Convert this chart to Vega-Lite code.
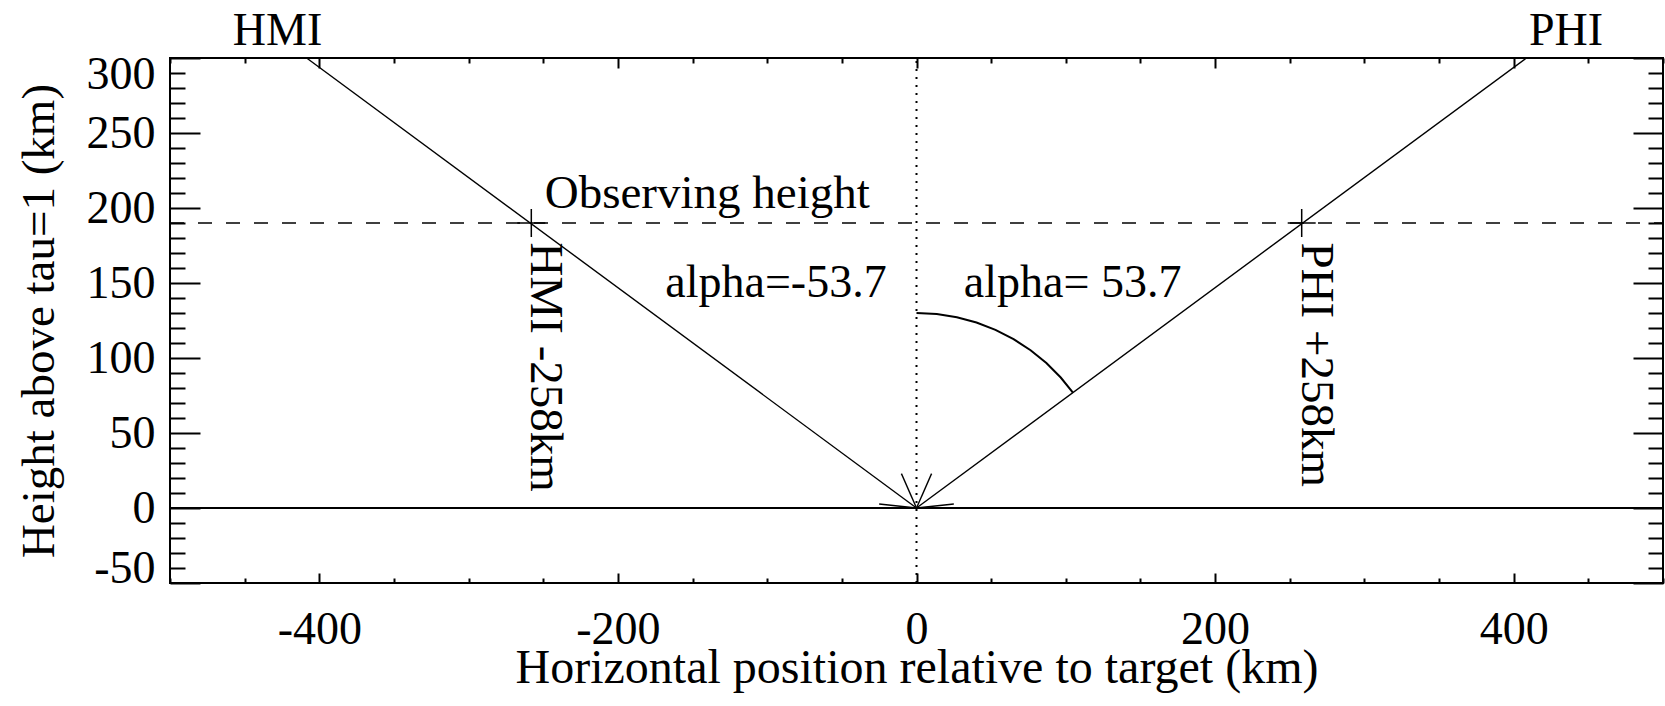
{
  "$schema": "https://vega.github.io/schema/vega-lite/v6.json",
  "width": 1493,
  "height": 525,
  "autosize": {"type": "none"},
  "padding": {"left": 170, "top": 58, "right": 2, "bottom": 123},
  "background": "white",
  "config": {
    "view": {"stroke": "black", "strokeWidth": 2},
    "font": "Liberation Serif",
    "axis": {
      "domain": false, "grid": false,
      "tickColor": "black", "tickWidth": 2,
      "labelColor": "black", "titleColor": "black",
      "labelFont": "Liberation Serif", "titleFont": "Liberation Serif",
      "labelFontSize": 46, "titleFontSize": 46, "titleFontWeight": "normal"
    },
    "text": {"font": "Liberation Serif", "fontSize": 46, "color": "black"}
  },
  "datasets": {
    "ground": [{"x": -500, "y": 0}, {"x": 500, "y": 0}],
    "obs": [{"x": -500, "y": 190}, {"x": 500, "y": 190}],
    "vert": [{"x": 0, "y": -50}, {"x": 0, "y": 300}],
    "rays": [
      {"x": 0, "y": 0, "k": "HMI"}, {"x": -408.5, "y": 300, "k": "HMI"},
      {"x": 0, "y": 0, "k": "PHI"}, {"x": 408.5, "y": 300, "k": "PHI"},
      {"x": 0, "y": 0, "k": "a1"}, {"x": -10.1, "y": 22.9, "k": "a1"},
      {"x": 0, "y": 0, "k": "a2"}, {"x": -25, "y": 2.7, "k": "a2"},
      {"x": 0, "y": 0, "k": "a3"}, {"x": 10.1, "y": 22.9, "k": "a3"},
      {"x": 0, "y": 0, "k": "a4"}, {"x": 25, "y": 2.7, "k": "a4"}
    ],
    "arc": [
      {"x": 0, "y": 130, "o": 0}, {"x": 13.59, "y": 129.29, "o": 1},
      {"x": 27.03, "y": 127.16, "o": 2}, {"x": 40.17, "y": 123.64, "o": 3},
      {"x": 52.88, "y": 118.76, "o": 4}, {"x": 65.0, "y": 112.58, "o": 5},
      {"x": 76.41, "y": 105.17, "o": 6}, {"x": 86.99, "y": 96.61, "o": 7},
      {"x": 96.61, "y": 86.99, "o": 8}, {"x": 104.78, "y": 76.95, "o": 9}
    ],
    "cross": [{"x": -258, "y": 190}, {"x": 258, "y": 190}],
    "toplab": [{"x": -428, "y": 309, "t": "HMI"}, {"x": 435, "y": 309, "t": "PHI"}],
    "obslab": [{"x": -249, "y": 200, "t": "Observing height"}],
    "alphaL": [{"x": -20, "y": 140.7, "t": "alpha=-53.7"}],
    "alphaR": [{"x": 31.7, "y": 140.7, "t": "alpha= 53.7"}],
    "rotlab": [{"x": -258, "y": 177, "t": "HMI -258km"}, {"x": 258, "y": 177, "t": "PHI +258km"}]
  },
  "layer": [
    {
      "data": {"name": "ground"},
      "mark": {"type": "line", "color": "black", "strokeWidth": 2},
      "encoding": {
        "x": {
          "field": "x", "type": "quantitative",
          "scale": {"domain": [-500, 500], "nice": false, "zero": false},
          "axis": {
            "orient": "bottom",
            "values": [-500,-450,-400,-350,-300,-250,-200,-150,-100,-50,0,50,100,150,200,250,300,350,400,450,500],
            "tickSize": {"condition": {"test": "datum.value % 200 === 0", "value": -10}, "value": -5},
            "labelExpr": "datum.value % 200 === 0 ? '' + datum.value : ''",
            "labelPadding": 34,
            "labelOverlap": false,
            "title": "Horizontal position relative to target (km)",
            "titleFontSize": 48,
            "titleAnchor": null,
            "titleX": 746.5, "titleY": 99,
            "titleAlign": "center", "titleBaseline": "alphabetic", "titleAngle": 0
          }
        },
        "y": {
          "field": "y", "type": "quantitative",
          "scale": {"domain": [-50, 300], "nice": false, "zero": false},
          "axis": {
            "orient": "left",
            "values": [-50,-40,-30,-20,-10,0,10,20,30,40,50,60,70,80,90,100,110,120,130,140,150,160,170,180,190,200,210,220,230,240,250,260,270,280,290,300],
            "tickSize": {"condition": {"test": "datum.value % 50 === 0", "value": -30}, "value": -15},
            "labelExpr": "datum.value % 50 === 0 ? '' + datum.value : ''",
            "labelPadding": 45,
            "labelOverlap": false,
            "labelOffset": {"condition": [{"test": "datum.value === 300", "value": 16}, {"test": "datum.value === -50", "value": -15}], "value": 0},
            "title": "Height above tau=1 (km)",
            "titleFontSize": 47,
            "titleAnchor": null,
            "titleX": -117, "titleY": 262.5,
            "titleAngle": -90, "titleAlign": "center", "titleBaseline": "alphabetic"
          }
        }
      }
    },
    {
      "data": {"name": "obs"},
      "mark": {"type": "line", "color": "black", "strokeWidth": 1.5, "strokeDash": [14, 14]},
      "encoding": {
        "x": {
          "field": "x", "type": "quantitative",
          "scale": {"domain": [-500, 500], "nice": false, "zero": false},
          "axis": {
            "orient": "top",
            "values": [-500,-450,-400,-350,-300,-250,-200,-150,-100,-50,0,50,100,150,200,250,300,350,400,450,500],
            "tickSize": {"condition": {"test": "datum.value % 200 === 0", "value": -10}, "value": -5},
            "labels": false,
            "title": null
          }
        },
        "y": {
          "field": "y", "type": "quantitative",
          "scale": {"domain": [-50, 300], "nice": false, "zero": false},
          "axis": {
            "orient": "right",
            "values": [-50,-40,-30,-20,-10,0,10,20,30,40,50,60,70,80,90,100,110,120,130,140,150,160,170,180,190,200,210,220,230,240,250,260,270,280,290,300],
            "tickSize": {"condition": {"test": "datum.value % 50 === 0", "value": -30}, "value": -15},
            "labels": false,
            "title": null
          }
        }
      }
    },
    {
      "data": {"name": "vert"},
      "mark": {"type": "line", "color": "black", "strokeWidth": 2, "strokeDash": [2, 6]},
      "encoding": {
        "x": {"field": "x", "type": "quantitative", "axis": null},
        "y": {"field": "y", "type": "quantitative", "axis": null}
      }
    },
    {
      "data": {"name": "rays"},
      "mark": {"type": "line", "color": "black", "strokeWidth": 1.4},
      "encoding": {
        "x": {"field": "x", "type": "quantitative", "axis": null},
        "y": {"field": "y", "type": "quantitative", "axis": null},
        "detail": {"field": "k"}
      }
    },
    {
      "data": {"name": "arc"},
      "mark": {"type": "line", "color": "black", "strokeWidth": 2},
      "encoding": {
        "x": {"field": "x", "type": "quantitative", "axis": null},
        "y": {"field": "y", "type": "quantitative", "axis": null},
        "order": {"field": "o", "type": "quantitative"}
      }
    },
    {
      "data": {"name": "cross"},
      "mark": {"type": "point", "shape": "M-1,0L1,0M0,-1L0,1", "size": 784, "filled": false, "stroke": "black", "strokeWidth": 1.5, "opacity": 1},
      "encoding": {
        "x": {"field": "x", "type": "quantitative", "axis": null},
        "y": {"field": "y", "type": "quantitative", "axis": null}
      }
    },
    {
      "data": {"name": "toplab"},
      "mark": {"type": "text", "align": "center", "baseline": "alphabetic"},
      "encoding": {
        "x": {"field": "x", "type": "quantitative", "axis": null},
        "y": {"field": "y", "type": "quantitative", "axis": null},
        "text": {"field": "t"}
      }
    },
    {
      "data": {"name": "obslab"},
      "mark": {"type": "text", "align": "left", "baseline": "alphabetic", "fontSize": 47},
      "encoding": {
        "x": {"field": "x", "type": "quantitative", "axis": null},
        "y": {"field": "y", "type": "quantitative", "axis": null},
        "text": {"field": "t"}
      }
    },
    {
      "data": {"name": "alphaL"},
      "mark": {"type": "text", "align": "right", "baseline": "alphabetic"},
      "encoding": {
        "x": {"field": "x", "type": "quantitative", "axis": null},
        "y": {"field": "y", "type": "quantitative", "axis": null},
        "text": {"field": "t"}
      }
    },
    {
      "data": {"name": "alphaR"},
      "mark": {"type": "text", "align": "left", "baseline": "alphabetic"},
      "encoding": {
        "x": {"field": "x", "type": "quantitative", "axis": null},
        "y": {"field": "y", "type": "quantitative", "axis": null},
        "text": {"field": "t"}
      }
    },
    {
      "data": {"name": "rotlab"},
      "mark": {"type": "text", "align": "left", "baseline": "alphabetic", "angle": 90, "fontSize": 47},
      "encoding": {
        "x": {"field": "x", "type": "quantitative", "axis": null},
        "y": {"field": "y", "type": "quantitative", "axis": null},
        "text": {"field": "t"}
      }
    }
  ],
  "resolve": {"axis": {"x": "independent", "y": "independent"}}
}
